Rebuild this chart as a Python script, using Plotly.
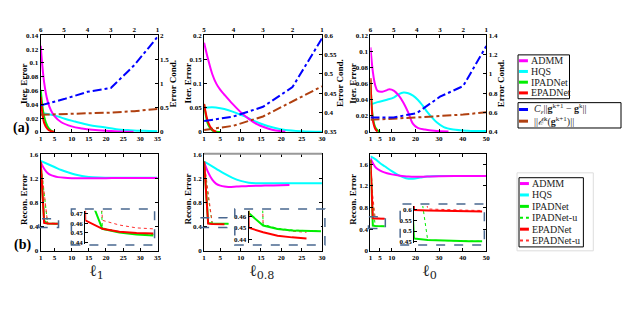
import plotly.graph_objects as go

# the page body keeps an 8 px margin, so the figure is 16 px smaller than the window
W, H = 618, 317
OFF = 8

# ---------------- top row: iteration error (left) and error condition (right) ----------------
# l1
t1_admm_x = [1, 2, 3, 4, 5, 7, 10, 13, 16, 20, 24, 28]
t1_admm_y = [0.125, 0.072, 0.045, 0.031, 0.023, 0.014, 0.008, 0.005, 0.003, 0.0015, 0.0007, 0.0002]
t1_hqs_x = [1, 3, 5, 8, 11, 15, 19, 23, 27, 31, 35]
t1_hqs_y = [0.027, 0.026, 0.024, 0.019, 0.015, 0.010, 0.007, 0.004, 0.0025, 0.0015, 0.001]
t1_ipad_x = [1, 2, 3, 4, 5]
t1_ipad_y = [0.061, 0.022, 0.008, 0.002, 0.0]
t1_epad_x = [1, 2, 3, 4, 5]
t1_epad_y = [0.051, 0.013, 0.004, 0.001, 0.0]
t1_layers = [6, 5, 4, 3, 2, 1]
t1_bound = [0.55, 0.68, 0.83, 0.91, 1.38, 1.97]
t1_cond = [0.355, 0.365, 0.38, 0.40, 0.43, 0.475]

# l0.8
t2_admm_x = [1, 2, 3, 4, 5, 6, 8, 10, 12, 14, 16, 18, 20, 21]
t2_admm_y = [0.185, 0.15, 0.12, 0.1, 0.087, 0.077, 0.058, 0.041, 0.027, 0.016, 0.009, 0.004, 0.0015, 0.0005]
t2_hqs_x = [1, 3, 5, 7, 9, 11, 13, 15, 18, 21, 25, 30]
t2_hqs_y = [0.05, 0.051, 0.049, 0.045, 0.039, 0.032, 0.024, 0.017, 0.009, 0.004, 0.0015, 0.0005]
t2_ipad_x = [1, 2, 3, 4, 5]
t2_ipad_y = [0.058, 0.015, 0.003, 0.0005, 0.0]
t2_epad_x = [1, 2, 3, 4]
t2_epad_y = [0.058, 0.02, 0.005, 0.0]
t2_layers = [5, 4, 3, 2, 1]
t2_bound = [0.378, 0.39, 0.415, 0.466, 0.592]
t2_cond = [0.355, 0.366, 0.39, 0.43, 0.468]

# l0
t3_admm_x = [1, 2, 3, 4, 6, 8, 9, 11, 13, 15, 17, 19, 21, 24, 28, 34]
t3_admm_y = [0.105, 0.075, 0.058, 0.051, 0.05, 0.052, 0.053, 0.051, 0.045, 0.036, 0.024, 0.01, 0.005, 0.003, 0.0015, 0.0005]
t3_hqs_x = [1, 4, 8, 11, 13, 15, 17, 19, 21, 23, 25, 27, 29, 32, 36, 42, 50]
t3_hqs_y = [0.034, 0.037, 0.040, 0.043, 0.047, 0.049, 0.048, 0.045, 0.04, 0.033, 0.025, 0.018, 0.012, 0.006, 0.003, 0.0015, 0.001]
t3_ipad_x = [1, 2, 3, 4, 5]
t3_ipad_y = [0.065, 0.018, 0.006, 0.002, 0.0]
t3_epad_x = [1, 2, 3, 4]
t3_epad_y = [0.067, 0.015, 0.004, 0.0005]
t3_layers = [6, 5, 4, 3, 2, 1]
t3_bound = [0.55, 0.55, 0.595, 0.765, 0.875, 1.29]
t3_cond = [0.525, 0.535, 0.55, 0.565, 0.58, 0.603]

# ---------------- bottom row: reconstruction error ----------------
b1_admm_x = [1, 2, 3, 4, 5, 6, 8, 10, 15, 20, 25, 30, 35]
b1_admm_y = [1.47, 1.36, 1.29, 1.255, 1.235, 1.222, 1.21, 1.205, 1.203, 1.205, 1.207, 1.208, 1.208]
b1_hqs_x = [1, 3, 5, 7, 9, 11, 13, 15, 18, 22, 26, 30, 35]
b1_hqs_y = [1.49, 1.44, 1.39, 1.34, 1.30, 1.265, 1.24, 1.225, 1.215, 1.21, 1.21, 1.21, 1.21]
b1_net_x = [1, 2, 3, 4, 5, 6]
b1_ipad_y = [1.45, 0.50, 0.454, 0.450, 0.448, 0.447]
b1_ipad_u_y = [1.45, 0.90, 0.455, 0.451, 0.449, 0.448]
b1_epad_y = [1.48, 0.463, 0.454, 0.451, 0.4495, 0.449]
b1_epad_u_y = [1.48, 1.0, 0.463, 0.458, 0.455, 0.454]

b2_admm_x = [1, 2, 3, 4, 5, 6, 7, 9, 12, 15, 18, 22]
b2_admm_y = [1.47, 1.30, 1.18, 1.11, 1.08, 1.065, 1.06, 1.065, 1.075, 1.08, 1.085, 1.09]
b2_hqs_x = [1, 2, 4, 6, 8, 10, 12, 14, 17, 20, 25, 30]
b2_hqs_y = [1.48, 1.44, 1.36, 1.28, 1.21, 1.16, 1.13, 1.12, 1.12, 1.12, 1.12, 1.12]
b2_ipad_x = [1, 2, 3, 4, 5, 6, 7]
b2_ipad_y = [1.48, 0.463, 0.452, 0.449, 0.4475, 0.447, 0.447]
b2_ipad_u_y = [1.48, 0.90, 0.453, 0.4495, 0.448, 0.4472, 0.447]
b2_epad_x = [1, 2, 3, 4, 5, 6]
b2_epad_y = [1.48, 0.450, 0.446, 0.443, 0.4415, 0.4405]
b2_epad_u_y = [1.48, 1.0, 0.452, 0.449, 0.447, 0.446]

b3_admm_x = [1, 2, 3, 4, 6, 8, 10, 13, 17, 20, 25, 30, 40, 50]
b3_admm_y = [1.71, 1.62, 1.55, 1.51, 1.46, 1.43, 1.41, 1.39, 1.37, 1.365, 1.37, 1.375, 1.38, 1.38]
b3_hqs_x = [1, 3, 5, 7, 10, 13, 16, 19, 22, 25, 30, 40, 50]
b3_hqs_y = [1.74, 1.69, 1.62, 1.56, 1.47, 1.39, 1.34, 1.33, 1.35, 1.37, 1.38, 1.38, 1.38]
b3_net_x = [1, 2, 3, 4, 5, 6, 7]
b3_ipad_y = [1.68, 0.465, 0.458, 0.455, 0.453, 0.452, 0.452]
b3_ipad_u_y = [1.68, 0.90, 0.457, 0.455, 0.453, 0.452, 0.452]
b3_epad_y = [1.68, 0.598, 0.596, 0.594, 0.593, 0.592, 0.591]
b3_epad_u_y = [1.68, 1.0, 0.603, 0.600, 0.598, 0.597, 0.596]

# tick labels
top_xticks = [[1, 5, 10, 15, 20, 25, 30, 35], [1, 5, 10, 15, 20, 25, 30], [1, 5, 10, 20, 30, 40, 50]]
panel_labels = ['ℓ<sub>1</sub>', 'ℓ<sub>0.8</sub>', 'ℓ<sub>0</sub>']

# line styles
STYLE = {
    'ADMM': dict(color='#ff00ff', width=2, dash='solid'),
    'HQS': dict(color='#00ffff', width=2, dash='solid'),
    'IPADNet': dict(color='#00ee00', width=2, dash='solid'),
    'IPADNet-u': dict(color='#00ee00', width=1, dash='dot'),
    'EPADNet': dict(color='#ff0000', width=2, dash='solid'),
    'EPADNet-u': dict(color='#ff3030', width=1, dash='dot'),
    'bound': dict(color='#0000ff', width=2, dash='dashdot'),
    'cond': dict(color='#b04010', width=2, dash='dashdot'),
}
SERIF = 'Liberation Serif'


def px(x):
    """window pixel -> paper fraction"""
    return (x - OFF) / W


def py(y):
    return 1 - (y - OFF) / H


def ax_id(c, n):
    return c if n == 1 else f'{c}{n}'


def ax_key(c, n):
    return f'{c}axis' if n == 1 else f'{c}axis{n}'


def line(x, y, name, xa, ya, spline=False):
    return go.Scatter(x=x, y=y, mode='lines', name=name, line=dict(**STYLE[name], shape='spline' if spline else 'linear'),
                      xaxis=ax_id('x', xa), yaxis=ax_id('y', ya), showlegend=False, hoverinfo='skip')


def label(x, y, text, font, angle=0, xanchor='center'):
    """text placed at a window pixel, anchored explicitly (auto anchors shift near the edges)"""
    fig.add_annotation(xref='paper', yref='paper', x=px(x), y=py(y), text=text, textangle=angle,
                       xanchor=xanchor, yanchor='middle', showarrow=False, font=font)


fig = go.Figure()
tick_font = dict(family=SERIF, size=7, color='black', weight='bold')
common = dict(showline=True, linecolor='black', linewidth=1, ticks='inside', ticklen=3, tickcolor='black',
              tickfont=tick_font, showgrid=False, zeroline=False)

# ----- top row -----
top_data = [
    (t1_admm_x, t1_admm_y, t1_hqs_x, t1_hqs_y, t1_ipad_x, t1_ipad_y, t1_epad_x, t1_epad_y, t1_layers, t1_bound, t1_cond),
    (t2_admm_x, t2_admm_y, t2_hqs_x, t2_hqs_y, t2_ipad_x, t2_ipad_y, t2_epad_x, t2_epad_y, t2_layers, t2_bound, t2_cond),
    (t3_admm_x, t3_admm_y, t3_hqs_x, t3_hqs_y, t3_ipad_x, t3_ipad_y, t3_epad_x, t3_epad_y, t3_layers, t3_bound, t3_cond),
]
x_dom = [(39, 157), (204, 323), (372, 489)]
left_ranges = [(0, 0.14, 0.02), (0, 0.2, 0.05), (0, 0.12, 0.02)]
right_ranges = [(0, 2, 0.5), (0.35, 0.6, 0.05), (0.4, 1.4, 0.2)]
x_max = [35, 30, 50]

for i, d in enumerate(top_data):
    m, t = i + 1, i + 4
    ax, ay, hx, hy, ix, iy, ex, ey, lay, bnd, cnd = d
    fig.add_trace(line(hx, hy, 'HQS', m, m, True))
    fig.add_trace(line(ax, ay, 'ADMM', m, m, True))
    fig.add_trace(line(ix, iy, 'IPADNet', m, m, True))
    fig.add_trace(line(ex, ey, 'EPADNet', m, m, True))
    fig.add_trace(line(lay, cnd, 'cond', t, t))
    fig.add_trace(line(lay, bnd, 'bound', t, t))
    dom = [px(x_dom[i][0]), px(x_dom[i][1])]
    lo, hi, st = left_ranges[i]
    rlo, rhi, rst = right_ranges[i]
    fig.update_layout({
        ax_key('x', m): dict(common, domain=dom, range=[1, x_max[i]], tickvals=top_xticks[i], anchor=ax_id('y', m)),
        ax_key('x', t): dict(common, overlaying=ax_id('x', m), side='top', range=[lay[0], lay[-1]], dtick=1,
                             anchor=ax_id('y', m)),
        ax_key('y', m): dict(common, domain=[py(131), py(32)], range=[lo, hi], dtick=st, anchor=ax_id('x', m)),
        ax_key('y', t): dict(common, overlaying=ax_id('y', m), side='right', range=[rlo, rhi], dtick=rst,
                             anchor=ax_id('x', m)),
    })

# ----- bottom row -----
bottom_data = [
    (b1_admm_x, b1_admm_y, b1_hqs_x, b1_hqs_y, b1_net_x, b1_ipad_y, b1_ipad_u_y, b1_net_x, b1_epad_y, b1_epad_u_y),
    (b2_admm_x, b2_admm_y, b2_hqs_x, b2_hqs_y, b2_ipad_x, b2_ipad_y, b2_ipad_u_y, b2_epad_x, b2_epad_y, b2_epad_u_y),
    (b3_admm_x, b3_admm_y, b3_hqs_x, b3_hqs_y, b3_net_x, b3_ipad_y, b3_ipad_u_y, b3_net_x, b3_epad_y, b3_epad_u_y),
]
bottom_ymax = [1.6, 1.6, 1.78]
inset_xdom = [(84, 153), (249, 322), (416, 485)]
inset_ydom = [(212, 246), (212, 245), (207, 245)]
inset_xrange = [(2, 6), (2, 7), (2, 7)]
inset_yrange = [(0.438, 0.473), (0.4365, 0.465), (0.444, 0.617)]
inset_ticks = [[0.44, 0.45, 0.46, 0.47], [0.44, 0.45, 0.46], [0.45, 0.5, 0.55, 0.6]]
inset_box = [(70, 210, 154, 247), (235, 210, 326, 247), (402, 205, 487, 247)]
zoom_box = [(37, 220, 57, 229), (200, 219, 227, 229), (370, 218, 387, 230)]
label_x = [95, 262, 432]

for i, d in enumerate(bottom_data):
    m, s = i + 7, i + 10
    ax, ay, hx, hy, ix, iy, iuy, ex, ey, euy = d
    fig.add_trace(line(hx, hy, 'HQS', m, m, True))
    fig.add_trace(line(ax, ay, 'ADMM', m, m, True))
    for n in (m, s):
        fig.add_trace(line(ix, iuy, 'IPADNet-u', n, n))
        fig.add_trace(line(ex, euy, 'EPADNet-u', n, n))
        fig.add_trace(line(ix, iy, 'IPADNet', n, n))
        fig.add_trace(line(ex, ey, 'EPADNet', n, n))
    fig.update_layout({
        ax_key('x', m): dict(common, domain=[px(x_dom[i][0]), px(x_dom[i][1])], range=[1, x_max[i]],
                             tickvals=top_xticks[i], mirror='ticks', anchor=ax_id('y', m)),
        ax_key('y', m): dict(common, domain=[py(253), py(154)], range=[0, bottom_ymax[i]],
                             tickvals=[0, 0.4, 0.8, 1.2, 1.6], mirror='ticks', anchor=ax_id('x', m)),
        ax_key('x', s): dict(domain=[px(inset_xdom[i][0]), px(inset_xdom[i][1])], range=list(inset_xrange[i]),
                             showline=False, showticklabels=False, ticks='', showgrid=False, zeroline=False,
                             anchor=ax_id('y', s)),
        ax_key('y', s): dict(common, domain=[py(inset_ydom[i][1]), py(inset_ydom[i][0])],
                             range=list(inset_yrange[i]), tickvals=inset_ticks[i], anchor=ax_id('x', s)),
    })
    for bx in (inset_box[i], zoom_box[i]):
        fig.add_shape(type='rect', xref='paper', yref='paper', x0=px(bx[0]), x1=px(bx[2]),
                      y0=py(bx[3]), y1=py(bx[1]), line=dict(color='#4a6890', width=1.5, dash='dash'))
    # panel label below
    label(label_x[i], 274, panel_labels[i], dict(family='DejaVu Serif', size=16, color='#222'))

# gray top edge of the middle reconstruction panel
fig.add_shape(type='line', xref='paper', yref='paper', x0=px(204), x1=px(323), y0=py(153.5), y1=py(153.5),
              line=dict(color='#999999', width=2))

# axis titles
lab_font = dict(family=SERIF, size=9, color='black', weight='bold')
for lx, rx in [(22, 173), (188, 341), (355, 504)]:
    label(lx, 81, 'Iter. Error', lab_font, -90)
    label(rx, 81, 'Error Cond.', lab_font, -90)
    label(lx, 200, 'Recon. Error', lab_font, -90)

for txt, x, y in [('(a)', 20, 127), ('(b)', 21, 247)]:
    label(x, y, txt, dict(family=SERIF, size=14, color='black', weight='bold'))

# ----- legends (drawn as boxes with line samples) -----
leg_font = dict(family=SERIF, size=10, color='#222')


def legend_box(x0, y0, x1, y1, color='black', width=1):
    fig.add_shape(type='rect', xref='paper', yref='paper', x0=px(x0), x1=px(x1), y0=py(y1), y1=py(y0),
                  line=dict(color=color, width=width), fillcolor='white', layer='below')


def legend_entry(x, y, key, text, length=9):
    st = STYLE[key]
    fig.add_shape(type='line', xref='paper', yref='paper', x0=px(x), x1=px(x + length), y0=py(y), y1=py(y),
                  line=dict(color=st['color'], width=st['width'] + 1, dash=st['dash']))
    label(x + length + 1, y, text, leg_font, xanchor='left')


legend_box(521, 52, 573, 97)
for j, name in enumerate(['ADMM', 'HQS', 'IPADNet', 'EPADNet']):
    legend_entry(522, 58 + j * 11, name, name)
legend_box(521, 101, 625, 127)
legend_entry(522, 108, 'bound', '<i>C<sub>ε</sub></i>||<b>g</b><sup>k+1</sup> − <b>g</b><sup>k</sup>||', 12)
legend_entry(522, 120, 'cond', '||<i>ℰ</i><sup>k</sup>(<b>g</b><sup>k+1</sup>)||', 12)

legend_box(520, 173, 597, 253, color='#dddddd', width=1)
legend_box(522, 178, 587, 249)
for j, name in enumerate(['ADMM', 'HQS', 'IPADNet', 'IPADNet-u', 'EPADNet', 'EPADNet-u']):
    legend_entry(523, 184 + j * 11.7, name, name)

fig.update_layout(width=W, height=H, margin=dict(l=0, r=0, t=0, b=0), plot_bgcolor='white',
                  paper_bgcolor='white', showlegend=False)

fig.write_html('out.html')
